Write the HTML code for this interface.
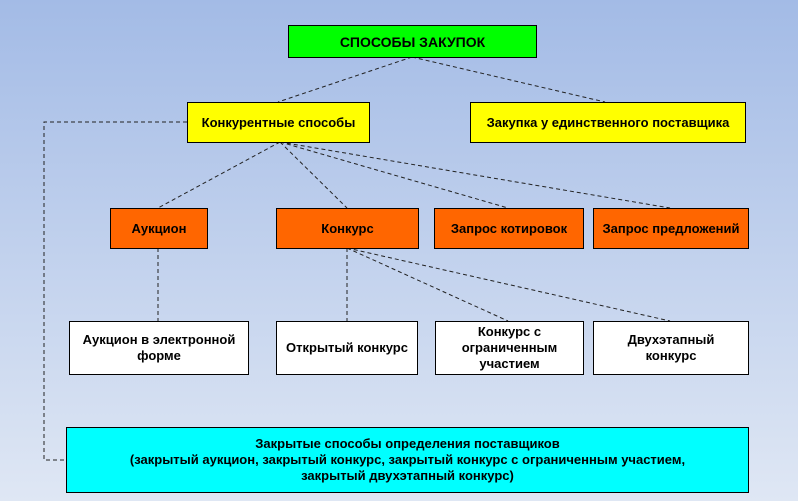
<!DOCTYPE html><html><head><meta charset="utf-8"><style>
body{margin:0;width:798px;height:501px;overflow:hidden;background:linear-gradient(#a3bbe6,#dfe7f4);font-family:"Liberation Sans",sans-serif;position:relative}
.b{position:absolute;box-sizing:border-box;border:1px solid #000;display:flex;align-items:center;justify-content:center;text-align:center;font-weight:bold;font-size:13px;line-height:16px;color:#000}
svg{position:absolute;left:0;top:0}
</style></head><body>
<svg width="798" height="501"><g stroke="#222" stroke-width="1" stroke-dasharray="4,3" fill="none">
<path d="M412 57L278 102M412 57L605 102M280 142L158 208M280 142L347 208M280 142L508 208M280 142L670 208M347 248L347 321M347 248L508 321M347 248L670 321M158 248L158 321M187 122H44V460H66"/></g></svg>
<div class="b" style="left:288px;top:25px;width:249px;height:33px;background:#00ff00;font-size:14px">СПОСОБЫ ЗАКУПОК</div>
<div class="b" style="left:187px;top:102px;width:183px;height:41px;background:#ffff00">Конкурентные способы</div>
<div class="b" style="left:470px;top:102px;width:276px;height:41px;background:#ffff00">Закупка у единственного поставщика</div>
<div class="b" style="left:110px;top:208px;width:98px;height:41px;background:#ff6600">Аукцион</div>
<div class="b" style="left:276px;top:208px;width:143px;height:41px;background:#ff6600">Конкурс</div>
<div class="b" style="left:434px;top:208px;width:150px;height:41px;background:#ff6600">Запрос котировок</div>
<div class="b" style="left:593px;top:208px;width:156px;height:41px;background:#ff6600">Запрос предложений</div>
<div class="b" style="left:69px;top:321px;width:180px;height:54px;background:#fff">Аукцион в электронной<br>форме</div>
<div class="b" style="left:276px;top:321px;width:142px;height:54px;background:#fff">Открытый конкурс</div>
<div class="b" style="left:435px;top:321px;width:149px;height:54px;background:#fff">Конкурс с<br>ограниченным<br>участием</div>
<div class="b" style="left:593px;top:321px;width:156px;height:54px;background:#fff">Двухэтапный<br>конкурс</div>
<div class="b" style="left:66px;top:427px;width:683px;height:66px;background:#00ffff">Закрытые способы определения поставщиков<br>(закрытый аукцион, закрытый конкурс, закрытый конкурс с ограниченным участием,<br>закрытый двухэтапный конкурс)</div>
</body></html>
